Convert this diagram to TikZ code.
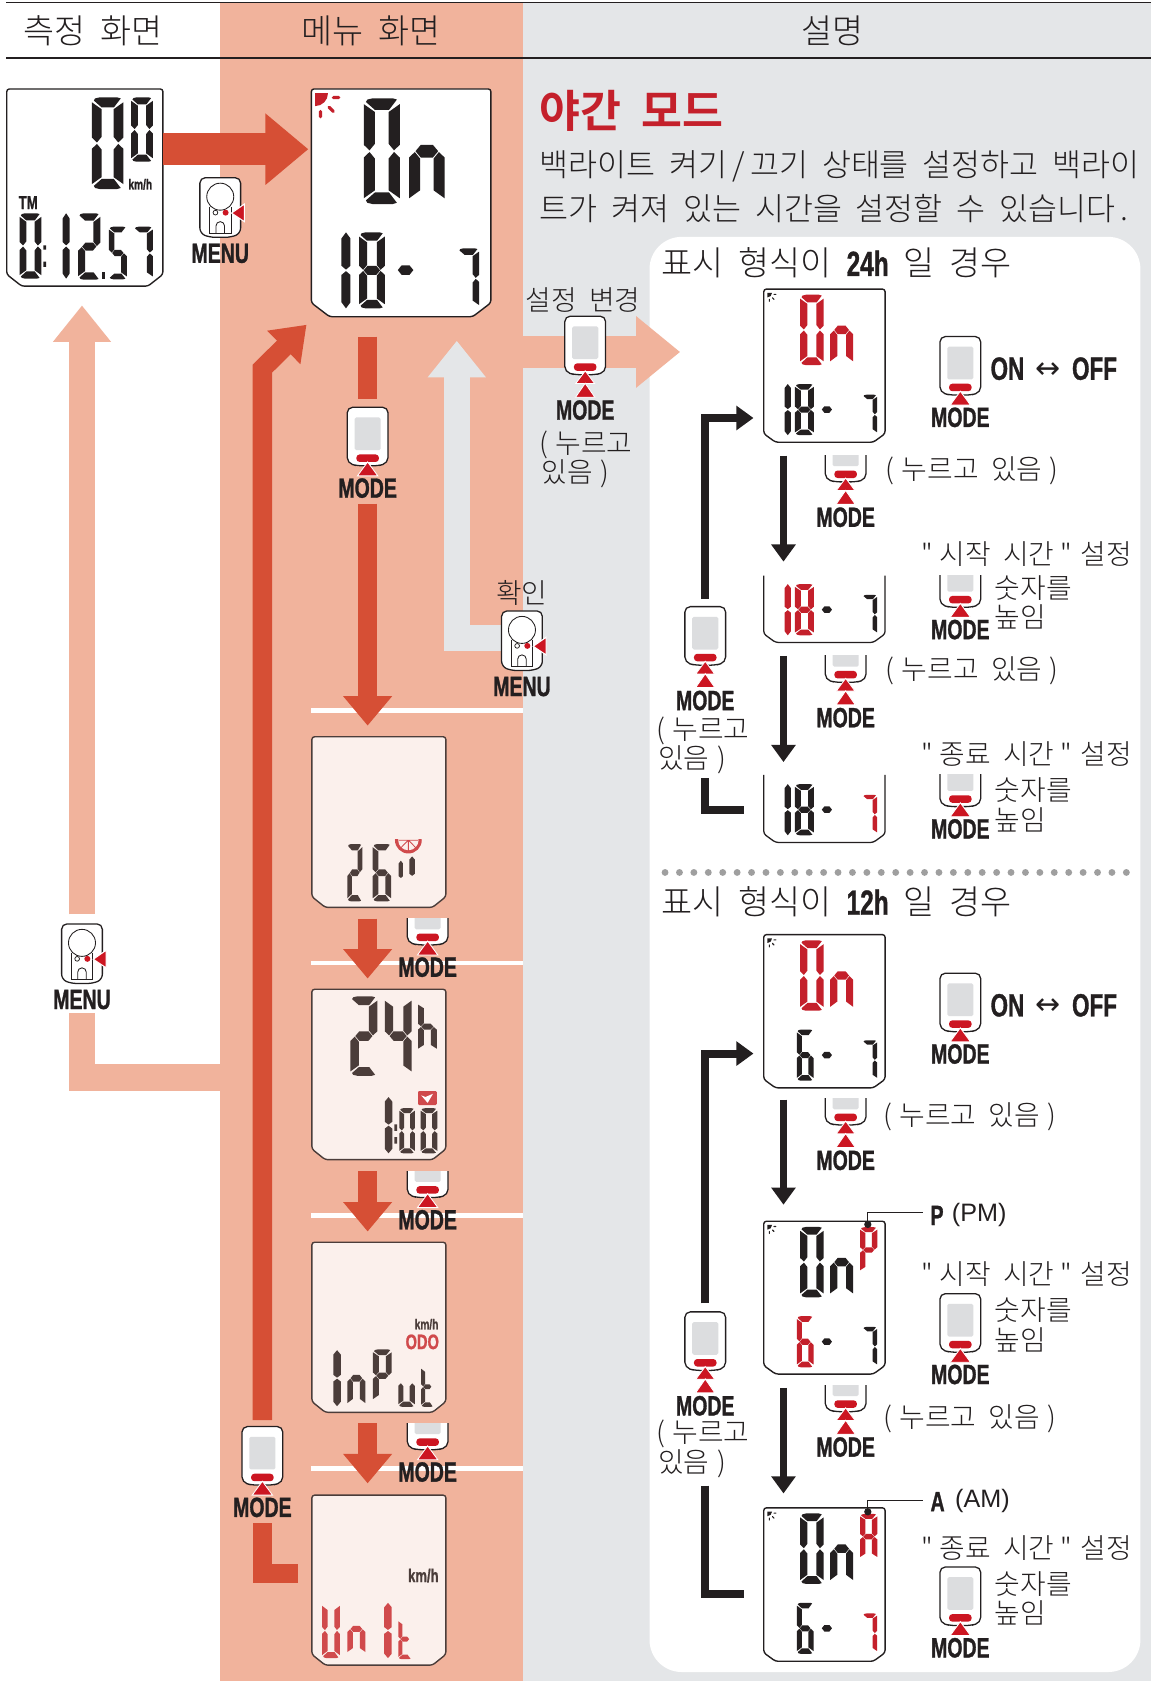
\documentclass[tikz,border=0pt]{standalone}
\usepackage{fontspec}
\usetikzlibrary{arrows.meta}
\setmainfont[WordSpace=2,BoldFont={Noto Sans CJK KR Bold}]{Noto Sans CJK KR Light}
\newfontfamily\qf{Noto Sans CJK KR Light}
\newfontfamily\cond[FakeStretch=0.7,FakeBold=1]{Liberation Sans}
\newfontfamily\dejavu{DejaVu Sans}
\newfontfamily\libsans{Liberation Sans}
\definecolor{ink}{HTML}{231F20}
\definecolor{salmon}{HTML}{F1B39C}
\definecolor{paleg}{HTML}{E4E6E8}
\definecolor{arrowred}{HTML}{D64F35}
\definecolor{btnred}{HTML}{CC1622}
\definecolor{lcdred}{HTML}{C4202B}
\definecolor{dimred}{HTML}{D04A4C}
\definecolor{dimink}{HTML}{4B3D3A}
\definecolor{dimfill}{HTML}{FBF0EC}
\definecolor{screen}{HTML}{DCDDDF}
\newcommand\fs[1]{\fontsize{#1}{#1}\selectfont}
\newcommand\qq{{\qf"}}
\newcommand\pl{(\hspace{7pt}}
\newcommand\pr{\hspace{7pt})}
\newcommand\setlab[1]{\qq\hspace{6pt}#1\hspace{6pt}\qq\hspace{8pt}설정}
\tikzset{
 txt/.style={inner sep=0pt,text=ink,font=\fs{26}},
 head/.style={inner sep=0pt,text=ink,font=\fs{31.5}},
 para/.style={inner sep=0pt,text=ink,font=\fs{29.4},anchor=west},
 modelab/.style={inner sep=0pt,text=ink,font=\fs{26}\cond\bfseries},
 unitlab/.style={inner sep=0pt,font=\fs{13.5}\cond\bfseries},
 bandred/.style={draw=arrowred,line width=#1,miter limit=10},
 bandsal/.style={draw=salmon,line width=#1,miter limit=10},
 bandgray/.style={draw=paleg,line width=#1,miter limit=10},
 bandink/.style={draw=ink,line width=#1,miter limit=10},
 redtip/.style={-{Triangle[length=27.5pt,width=44pt]}},
 bigtip/.style={-{Triangle[length=40pt,width=64pt]}},
 uptip/.style={-{Triangle[length=34pt,width=52pt]}},
 inktip/.style={-{Triangle[length=16pt,width=22pt]}},
 sepline/.style={draw=white,line width=4.6pt},
}
% seven-segment parts in a unit box
\def\sga{\fill[fill=\dgc] (.1,.012)--(.25,0)--(.8,0)--(.92,.012)--(.7,.11)--(.31,.11)--(.06,.035)--cycle;}
\def\sgb{\fill[fill=\dgc] (1,.055)--(.69,.13)--(.69,.43)--(.84,.492)--(1,.44)--cycle;}
\def\sgc{\fill[fill=\dgc] (1,.56)--(.84,.508)--(.69,.57)--(.69,.87)--(1,.945)--cycle;}
\def\sgd{\fill[fill=\dgc] (.1,.988)--(.25,1)--(.8,1)--(.92,.988)--(.7,.89)--(.31,.89)--(.06,.965)--cycle;}
\def\sge{\fill[fill=\dgc] (0,.56)--(.16,.508)--(.31,.57)--(.31,.87)--(0,.945)--cycle;}
\def\sgf{\fill[fill=\dgc] (0,.055)--(.31,.13)--(.31,.43)--(.16,.492)--(0,.44)--cycle;}
\def\sgg{\fill[fill=\dgc] (.18,.5)--(.33,.44)--(.67,.44)--(.82,.5)--(.67,.56)--(.33,.56)--cycle;}
\def\sgp{\fill[fill=\dgc] (.5,0)--(1,.08)--(1,.44)--(.5,.49)--(0,.44)--(0,.08)--cycle;}
\def\sgq{\fill[fill=\dgc] (0,.56)--(.5,.51)--(1,.56)--(1,.92)--(.5,1)--(0,.92)--cycle;}
\def\dZ{a,b,c,d,e,f}
\def\dOne{p,q}
\def\dTwo{a,b,g,e,d}
\def\dFour{f,g,b,c}
\def\dFive{a,f,g,c,d}
\def\dSix{a,f,g,e,c,d}
\def\dSeven{a,b,c}
\def\dEight{a,b,c,d,e,f,g}
\def\dN{e,g,c}
\def\dH{f,e,g,c}
\def\dP{a,b,f,g,e}
\def\dU{e,d,c}
\def\dUU{f,e,d,c,b}
\def\dT{f,e,g,d}
\def\dA{a,b,c,e,f,g}
\newcommand\dg[6]{\pgfmathsetmacro\dgw{#3-#1}\pgfmathsetmacro\dgh{#4-#2}\def\dgc{#5}\edef\dglist{#6}%
 \begin{scope}[shift={(#1,#2)},x=\dgw pt,y=-\dgh pt]\foreach\s in \dglist{\csname sg\s\endcsname}\end{scope}}
\newcommand\dsh[5]{\fill[fill=#5] ({#1-#3/2},#2)--({#1-#3/4},{#2-#4/2})--({#1+#3/4},{#2-#4/2})--({#1+#3/2},#2)--({#1+#3/4},{#2+#4/2})--({#1-#3/4},{#2+#4/2})--cycle;}
\newcommand\lcd[8]{\draw[fill=#1,draw=#2,line width=1.3pt,rounded corners=2.5pt] (#3,#4)--(#5,#4)--(#5,{#6-#8})--({#5-#7},#6)--({#3+#7},#6)--(#3,{#6-#8})--cycle;}
\newcommand\lcdopen[4]{\draw[draw=ink,line width=1.2pt,rounded corners=2.5pt] (#1,#2)--(#1,{#4-8})--({#1+11},#4)--({#3-11},#4)--(#3,{#4-8})--(#3,#2);}
\newcommand\sunicon[4]{\begin{scope}[shift={(#1,#2)},scale=#3]
 \fill[fill=#4] (0,0)--(12,0) arc[start angle=0,end angle=-90,x radius=12,y radius=-12]--cycle;
 \draw[draw=#4,line width=#3*3pt,line cap=round] (17,4)--(22,4) (13,13)--(17,17) (5,17)--(5,22);
 \end{scope}}
\newcommand\mdev[5]{\begin{scope}[shift={(#2,#3)}]
 \begin{scope}\clip (-25,#4) rectangle (25,58);
 \draw[fill=white,draw=ink,line width=1.2pt,rounded corners=5pt] (-19,0)--(19,0)--(19,52)--(10,54.6)--(-10,54.6)--(-19,52)--cycle;
 \fill[fill=screen,rounded corners=1.5pt] (-12.2,9.5) rectangle (12.2,40);
 \end{scope}
 \fill[fill=btnred,rounded corners=3pt] (-10.5,44) rectangle (10.5,51);
 \ifnum#5=2
 \draw[fill=btnred,draw=white,line width=.8pt] (0,51)--(8.8,62.8)--(-8.8,62.8)--cycle;
 \draw[fill=btnred,draw=white,line width=.8pt] (0,62.6)--(9,75.6)--(-9,75.6)--cycle;
 \node[modelab] (#1) at (0,87.6) {MODE};
 \else
 \draw[fill=btnred,draw=white,line width=.8pt] (0,51)--(9.5,64)--(-9.5,64)--cycle;
 \node[modelab] (#1) at (0,75.4) {MODE};
 \fi
 \end{scope}}
\newcommand\mnu[3]{\begin{scope}[shift={(#2,#3)}]
 \draw[fill=white,draw=ink,line width=1.2pt,rounded corners=5pt] (-19,0)--(19,0)--(19,52)--(10,55.6)--(-10,55.6)--(-19,52)--cycle;
 \draw[draw=ink,line width=.8pt] (0,17.7) circle (12.6);
 \draw[draw=ink,line width=.8pt] (-10,27)--(-10,52)--(10,52)--(10,27);
 \draw[draw=ink,line width=.8pt] (-4,52)--(-4,45) arc[start angle=180,end angle=0,x radius=4,y radius=-4]--(4,52);
 \draw[draw=ink,line width=.7pt] (-4.5,32.6) circle (2.2);
 \fill[fill=btnred] (5,32.6) circle (2.8);
 \draw[fill=btnred,draw=white,line width=1pt] (10.5,33)--(22.5,24.6)--(22.5,41)--cycle;
 \node[modelab] (#1) at (0,70.6) {MENU};
 \end{scope}}
\newcommand\rtop[2]{\begin{scope}[shift={(0,#1)}]\sunicon{716}{3.5}{.36}{ink}\dg{746.5}{5.3}{768.5}{71}{#2}{\dZ}\dg{774.5}{5.3}{796}{71}{#2}{\dN}\end{scope}}
\newcommand\rOE[2]{\begin{scope}[shift={(0,#1)}]\dg{732}{88.6}{738}{136.3}{#2}{\dOne}\dg{741.7}{88.6}{759.4}{136.3}{#2}{\dEight}\end{scope}}
\newcommand\rSX[2]{\begin{scope}[shift={(0,#1)}]\dg{743.4}{88.6}{759}{136.3}{#2}{\dSix}\end{scope}}
\newcommand\rDS[1]{\pgfmathsetmacro\rdy{#1+112.4}\dsh{771.5}{\rdy}{9.5}{6}{ink}}
\newcommand\rSV[2]{\begin{scope}[shift={(0,#1)}]\dg{805}{98.6}{818.3}{135.6}{#2}{\dSeven}\end{scope}}
\begin{document}
\begin{tikzpicture}[x=1pt,y=-1pt]
\useasboundingbox (0,0) rectangle (1074,1568.4);
\fill[white] (0,0) rectangle (1074,1568.4);
\fill[salmon] (205,3) rectangle (488,1568.4);
\fill[paleg] (488,3) rectangle (1074,1568.4);
\fill[white,rounded corners=30pt] (606,221) rectangle (1064,1560);
\coordinate (topL) at (6,2.5); \coordinate (topR) at (1074,2.5);
\coordinate (midL) at (6,54); \coordinate (midR) at (1074,54);
\draw[draw=ink,line width=1.5pt] (topL)--(topR);
\draw[draw=ink,line width=1.5pt] (midL)--(midR);
\node[head] (h1) at (87,28.7) {측정 화면};
\node[head] (h2) at (346,28.7) {메뉴 화면};
\node[head] (h3) at (777,28.7) {설명};
% title
\node[anchor=west,inner sep=0pt,text=lcdred,font=\fs{41.5}\bfseries] (title) at (503,103) {야간 모드};
\node[para] (p1) at (503,155.5) {백라이트 켜기\,/\,끄기 상태를 설정하고 백라이};
\node[para] (p2) at (503,195) {트가 켜져 있는 시간을 설정할 수 있습니다\,.};
\node[head,anchor=west] (s24) at (617,245.5) {표시 형식이 {\fs{32.5}\cond\bfseries 24h} 일 경우};
\node[head,anchor=west] (s12) at (617,841.5) {표시 형식이 {\fs{32.5}\cond\bfseries 12h} 일 경우};
% pale back-arrow on the left
\coordinate (pa) at (205,1005.5); \coordinate (pb) at (76.5,1005.5); \coordinate (pc) at (76.5,945);
\coordinate (pd) at (76.5,853); \coordinate (pe) at (76.5,285);
\draw[bandsal=24.7pt] (pa)--(pb)--(pc);
\draw[bandsal=24.7pt,uptip] (pd)--(pe);
\mnu{menuL}{76.5}{862}
% measurement screen
\lcd{white}{ink}{6.3}{83}{152}{267}{14}{11}
\dg{85.8}{90.8}{115}{176.4}{ink}{\dZ}
\dg{122.4}{90.8}{142.6}{150.9}{ink}{\dZ}
\node[unitlab,text=ink] (u0) at (130.9,172) {km/h};
\node[inner sep=0pt,text=ink,font=\fs{17.5}\cond\bfseries] (tm) at (26.3,189) {TM};
\dg{18.3}{199}{38.5}{260}{ink}{\dZ}
\fill[ink] (40.5,229) rectangle (43,233) (40.5,244) rectangle (43,249);
\dg{58.4}{199}{65}{260}{ink}{\dOne}
\dg{73}{199}{93.6}{261}{ink}{\dTwo}
\fill[ink] (95.3,254) rectangle (98.4,260);
\dg{101.6}{211.5}{118.3}{260.6}{ink}{\dFive}
\dg{125}{211.5}{142.6}{260.6}{ink}{\dSeven}
% menu arrow
\coordinate (ra) at (152,139.2); \coordinate (rb) at (287.7,139.2);
\draw[bandred=30pt,bigtip] (ra)--(rb);
\mnu{menuT}{205.5}{165.8}
% On screen
\lcd{white}{ink}{290.5}{83}{458}{295.5}{17}{13}
\sunicon{294}{87}{1}{lcdred}
\dg{339.4}{91.7}{373}{190.4}{ink}{\dZ}
\dg{381.7}{91.7}{414.8}{190.4}{ink}{\dN}
\dg{318.6}{216.8}{327}{287.7}{ink}{\dOne}
\dg{335}{216.8}{359}{287.7}{ink}{\dEight}
\dsh{378.4}{252}{14.5}{9}{ink}
\dg{427.5}{231.7}{447}{287.7}{ink}{\dSeven}
% return arrow
\coordinate (la) at (278,1468); \coordinate (lb) at (244.8,1468); \coordinate (lc) at (244.8,1421);
\coordinate (ld) at (244.8,1325); \coordinate (le) at (244.8,344); \coordinate (lf) at (286,303);
\draw[bandred=18pt] (la)--(lb)--(lc);
\draw[bandred=18pt,-{Triangle[length=30pt,width=42pt]}] (ld)--(le)--(lf);
\mdev{mLeft}{244.8}{1331}{-2}{1}
% gray arrow
\coordinate (ga) at (470,595.5); \coordinate (gb) at (426.2,595.5); \coordinate (gc) at (426.2,318);
\draw[bandgray=24.6pt,uptip] (ga)--(gb)--(gc);
% white separators
\foreach \yy/\nn in {663/a,898.5/b,1134.5/c,1370/d}{
 \coordinate (sl\nn) at (290,\yy); \coordinate (sr\nn) at (488,\yy);
 \draw[sepline] (sl\nn)--(sr\nn);
}
% red down arrows
\coordinate (da) at (343,314); \coordinate (db) at (343,372); \coordinate (dc) at (343,470); \coordinate (dd) at (343,677);
\draw[bandred=18pt] (da)--(db);
\draw[bandred=18pt,redtip] (dc)--(dd);
\mdev{m1}{343}{380}{-2}{1}
\foreach \ya/\yb/\nn in {857/913/e,1092.7/1149/f,1328/1384/g}{
 \coordinate (ar\nn) at (343,\ya); \coordinate (br\nn) at (343,\yb);
 \draw[bandred=18pt,redtip] (ar\nn)--(br\nn);
}
\mdev{m2}{399}{827}{30}{1}
\mdev{m3}{399}{1062.7}{30}{1}
\mdev{m4}{399}{1298}{30}{1}
% wheel size screen
\lcd{dimfill}{dimink}{291}{687.4}{416}{846.6}{12.5}{10}
\dg{324}{787.5}{338}{841}{dimink}{\dTwo}
\dg{347.7}{787.5}{365}{841}{dimink}{\dSix}
\begin{scope}\clip (366,783.5) rectangle (396,799);
 \fill[dimred] (381,783.8) circle (12.5);
 \fill[dimfill] (381,783.8) circle (9.5);
 \draw[draw=dimred,line width=.8pt] (381,783.8)--(381,794) (381,783.8)--(388,791) (381,783.8)--(374,791) (372,784)--(390,784);
\end{scope}
\dg{372}{803}{376}{836}{dimink}{p}
\dg{382}{799}{387}{836}{dimink}{p}
% 24h screen
\lcd{dimfill}{dimink}{291}{923}{416}{1082}{12.5}{10}
\dg{327}{929.6}{352}{1003.7}{dimink}{\dTwo}
\dg{359}{929.6}{384}{1003.7}{dimink}{\dFour}
\dg{390}{934.7}{407.5}{981}{dimink}{\dH}
\fill[fill=dimred,rounded corners=1pt] (390,1018) rectangle (407.5,1031);
\fill[white] (393,1022)--(397,1023.5)--(404,1020.5)--(399,1029)--cycle;
\dg{359}{1023.6}{366}{1076}{dimink}{\dOne}
\fill[dimink] (368,1049) rectangle (370.5,1055) (368,1061) rectangle (370.5,1067);
\dg{372.6}{1034}{387}{1076}{dimink}{\dZ}
\dg{392.5}{1034}{408}{1076}{dimink}{\dZ}
% input screen
\lcd{dimfill}{dimink}{291}{1159}{416}{1317.7}{12.5}{10}
\node[unitlab,text=dimink] (u1) at (398,1235.5) {km/h};
\node[inner sep=0pt,text=dimred,font=\fs{19.5}\cond\bfseries] (odo) at (394,1252) {ODO};
\dg{311}{1259.7}{318}{1312}{dimink}{\dOne}
\dg{324}{1259.7}{341}{1312}{dimink}{\dN}
\dg{348}{1259}{365.5}{1308}{dimink}{\dP}
\dg{371.6}{1268}{387}{1312.6}{dimink}{\dU}
\dg{393}{1275}{404.5}{1312.6}{dimink}{\dT}
% unit screen
\lcd{dimfill}{dimink}{291}{1395}{416}{1553.6}{12.5}{10}
\node[inner sep=0pt,text=dimink,font=\fs{17.4}\cond\bfseries] (u2) at (395,1470) {km/h};
\dg{300.6}{1495.5}{317}{1547}{dimred}{\dUU}
\dg{324}{1495.5}{341}{1544}{dimred}{\dN}
\dg{358.5}{1495.5}{365.5}{1547}{dimred}{\dOne}
\dg{371.6}{1510.6}{384}{1548}{dimred}{\dT}
% settings arrow and confirm device
\coordinate (sa) at (488,328.4); \coordinate (sb) at (634.6,328.4);
\draw[bandsal=30pt,-{Triangle[length=41pt,width=64pt]}] (sa)--(sb);
\node[txt] (chg) at (544,280) {설정 변경};
\mdev{mS}{546}{295}{-2}{2}
\node[txt,anchor=west] (pr1) at (503,415) {\pl 누르고};
\node[txt,anchor=west] (pr2) at (505,442) {있음\pr};
\node[txt] (ok) at (487,553) {확인};
\mnu{menuR}{487}{570}
% --- 24h column ---
\lcd{white}{ink}{712.6}{269.7}{825.8}{412.6}{11}{8}
\rtop{269.7}{lcdred}\rOE{269.7}{ink}\rDS{269.7}\rSV{269.7}{ink}
\mdev{mA}{896}{314}{-2}{1}
\node[inner sep=0pt,anchor=west,text=ink,font=\fs{30}\cond\bfseries] (oo1) at (924,344) {ON};
\node[inner sep=0pt,text=ink,font=\fs{28}\dejavu] (ar1) at (978,345.5) {↔};
\node[inner sep=0pt,anchor=west,text=ink,font=\fs{30}\cond\bfseries] (of1) at (1000,344) {OFF};
\coordinate (k1a) at (731,425); \coordinate (k1b) at (731,524);
\draw[bandink=7pt,inktip] (k1a)--(k1b);
\mdev{mB}{789}{395}{30}{2}
\node[txt,anchor=west] (n1) at (826,439) {\pl 누르고 있음\pr};
\node[txt] (st1) at (958,517) {\setlab{시작 시간}};
\lcdopen{712.6}{537}{825.8}{599.4}
\rOE{456.4}{lcdred}\rDS{456.4}\rSV{456.4}{ink}
\mdev{mC}{896}{512}{25}{1}
\node[txt,anchor=west] (nu1) at (928,548.5) {숫자를};
\node[txt,anchor=west] (nu2) at (928,576) {높임};
\coordinate (k2a) at (731,612); \coordinate (k2b) at (731,711);
\draw[bandink=7pt,inktip] (k2a)--(k2b);
\mdev{mD}{789}{582}{30}{2}
\node[txt,anchor=west] (n2) at (826,626) {\pl 누르고 있음\pr};
\node[txt] (st2) at (958,703.5) {\setlab{종료 시간}};
\lcdopen{712.6}{723}{825.8}{786}
\rOE{643}{ink}\rDS{643}\rSV{643}{lcdred}
\mdev{mE}{896}{698}{25}{1}
\node[txt,anchor=west] (nu3) at (928,737.5) {숫자를};
\node[txt,anchor=west] (nu4) at (928,764.5) {높임};
% loop 1
\coordinate (q1a) at (658,559); \coordinate (q1b) at (658,390); \coordinate (q1c) at (703,390);
\draw[bandink=7.5pt,inktip] (q1a)--(q1b)--(q1c);
\mdev{mF}{658}{566}{-2}{2}
\node[txt,anchor=west] (pr3) at (612,681.5) {\pl 누르고};
\node[txt,anchor=west] (pr4) at (614,708.5) {있음\pr};
\coordinate (q2a) at (658,726); \coordinate (q2b) at (658,756); \coordinate (q2c) at (694,756);
\draw[bandink=7.5pt] (q2a)--(q2b)--(q2c);
% divider
\coordinate (dv1) at (620.5,814); \coordinate (dv2) at (1052,814);
\draw[draw=gray!75,line width=6.4pt,line cap=round,dash pattern=on 0pt off 13.45pt] (dv1)--(dv2);
% --- 12h column ---
\lcd{white}{ink}{712.6}{872}{825.8}{1015}{11}{8}
\rtop{872}{lcdred}\rSX{872}{ink}\rDS{872}\rSV{872}{ink}
\mdev{mG}{896}{908}{-2}{1}
\node[inner sep=0pt,anchor=west,text=ink,font=\fs{30}\cond\bfseries] (oo2) at (924,938) {ON};
\node[inner sep=0pt,text=ink,font=\fs{28}\dejavu] (ar2) at (978,939.5) {↔};
\node[inner sep=0pt,anchor=west,text=ink,font=\fs{30}\cond\bfseries] (of2) at (1000,938) {OFF};
\coordinate (k3a) at (731,1026); \coordinate (k3b) at (731,1124);
\draw[bandink=7pt,inktip] (k3a)--(k3b);
\mdev{mH}{789}{995}{30}{2}
\node[txt,anchor=west] (n3) at (824,1042) {\pl 누르고 있음\pr};
% PM screen
\lcd{white}{ink}{712.6}{1139.4}{825.8}{1282}{11}{8}
\rtop{1139.4}{ink}\rSX{1139.4}{lcdred}\rDS{1139.4}\rSV{1139.4}{ink}
\dg{802.5}{1145}{818.5}{1187.5}{lcdred}{\dP}
\coordinate (pm1) at (809.7,1142.4); \coordinate (pm2) at (809.7,1131.6); \coordinate (pm3) at (861.6,1131.6);
\draw[draw=ink,line width=1.1pt] (pm1)--(pm2)--(pm3);
\fill[ink] (pm1) circle (3.4);
\node[inner sep=0pt,anchor=west,text=ink,font=\fs{26}\cond\bfseries] (pmT) at (868,1134) {P};
\node[inner sep=0pt,anchor=west,text=ink,font=\fs{23.5}\libsans] (pmU) at (888,1134) {(PM)};
\node[txt] (st3) at (958,1189) {\setlab{시작 시간}};
\mdev{mI}{896}{1207}{-2}{1}
\node[txt,anchor=west] (nu5) at (928,1222.5) {숫자를};
\node[txt,anchor=west] (nu6) at (928,1250) {높임};
\coordinate (k4a) at (731,1295); \coordinate (k4b) at (731,1393.4);
\draw[bandink=7pt,inktip] (k4a)--(k4b);
\mdev{mJ}{789}{1262.5}{30.5}{2}
\node[txt,anchor=west] (n4) at (824,1324) {\pl 누르고 있음\pr};
% AM screen
\lcd{white}{ink}{712.6}{1406.8}{825.8}{1550}{11}{8}
\rtop{1406.8}{ink}\rSX{1406.8}{ink}\rDS{1406.8}\rSV{1406.8}{lcdred}
\dg{802.5}{1412.5}{818.5}{1455}{lcdred}{\dA}
\coordinate (am1) at (809.7,1410.5); \coordinate (am2) at (809.7,1399.7); \coordinate (am3) at (861.6,1399.7);
\draw[draw=ink,line width=1.1pt] (am1)--(am2)--(am3);
\fill[ink] (am1) circle (3.4);
\node[inner sep=0pt,anchor=west,text=ink,font=\fs{26}\cond\bfseries] (amT) at (868,1401) {A};
\node[inner sep=0pt,anchor=west,text=ink,font=\fs{23.5}\libsans] (amU) at (891,1400) {(AM)};
\node[txt] (st4) at (958,1444) {\setlab{종료 시간}};
\mdev{mK}{896}{1462}{-2}{1}
\node[txt,anchor=west] (nu7) at (928,1477.5) {숫자를};
\node[txt,anchor=west] (nu8) at (928,1505) {높임};
% loop 2
\coordinate (q3a) at (658,1216); \coordinate (q3b) at (658,983); \coordinate (q3c) at (703,983);
\draw[bandink=7.5pt,inktip] (q3a)--(q3b)--(q3c);
\mdev{mL}{658}{1224}{-2}{2}
\node[txt,anchor=west] (pr5) at (612,1338) {\pl 누르고};
\node[txt,anchor=west] (pr6) at (614,1365.5) {있음\pr};
\coordinate (q4a) at (658,1386); \coordinate (q4b) at (658,1487); \coordinate (q4c) at (694,1487);
\draw[bandink=7.5pt] (q4a)--(q4b)--(q4c);
\end{tikzpicture}
\end{document}
